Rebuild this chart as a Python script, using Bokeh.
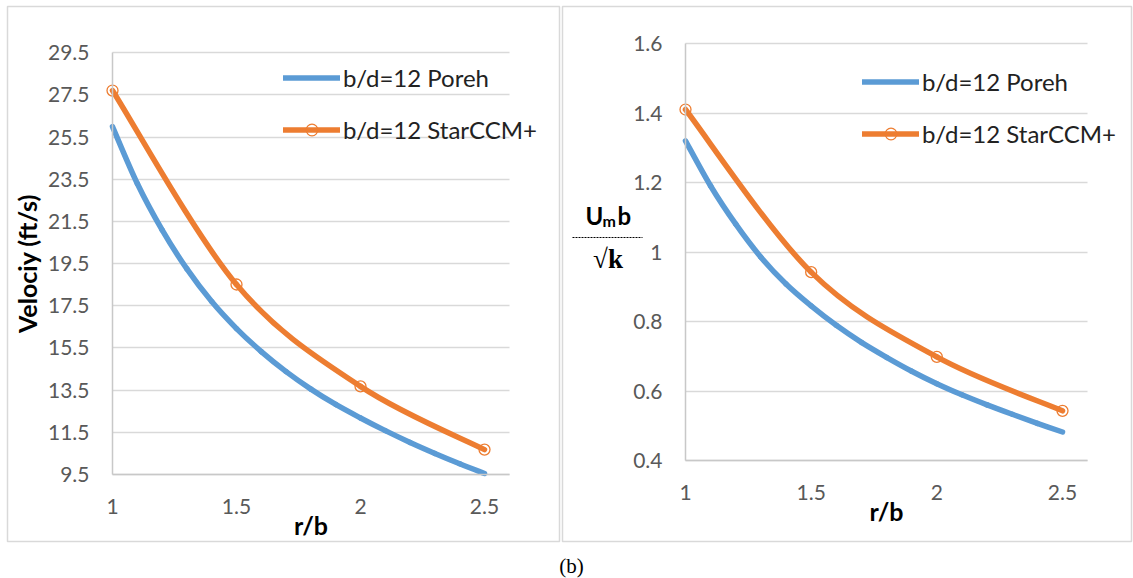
from bokeh.plotting import figure
from bokeh.models import (Range1d, FixedTicker, Legend, LegendItem, Label,
                          Arrow, Div)
from bokeh.layouts import row, column
from bokeh.embed import file_html
from bokeh.resources import INLINE

# ---------------- data ----------------
r_b = [1.0, 1.5, 2.0, 2.5]
vel_star = [27.71, 18.51, 13.68, 10.68]
umb_star = [1.41, 0.942, 0.698, 0.543]

r_poreh = [1.0, 1.1, 1.2, 1.3, 1.4, 1.5, 1.6, 1.7, 1.8, 1.9, 2.0, 2.1, 2.2,
           2.3, 2.4, 2.5]
vel_poreh = [26.0, 23.3, 21.1, 19.25, 17.7, 16.42, 15.33, 14.38, 13.55, 12.82,
             12.18, 11.58, 11.02, 10.5, 10.01, 9.55]
umb_poreh = [1.32, 1.19, 1.08, 0.985, 0.908, 0.845, 0.789, 0.740, 0.697,
             0.657, 0.621, 0.589, 0.560, 0.533, 0.507, 0.482]

x_ticks = [1, 1.5, 2, 2.5]
x_tick_labels = ["1", "1.5", "2", "2.5"]
vel_ticks = [9.5, 11.5, 13.5, 15.5, 17.5, 19.5, 21.5, 23.5, 25.5, 27.5, 29.5]
vel_tick_labels = ["9.5", "11.5", "13.5", "15.5", "17.5", "19.5", "21.5",
                   "23.5", "25.5", "27.5", "29.5"]
umb_ticks = [0.4, 0.6, 0.8, 1.0, 1.2, 1.4, 1.6]
umb_tick_labels = ["0.4", "0.6", "0.8", "1", "1.2", "1.4", "1.6"]
legend_labels = ["b/d=12 Poreh", "b/d=12 StarCCM+"]
x_title = "r/b"
y_title_left = "Velociy (ft/s)"

BLUE = "#5B9BD5"
ORANGE = "#ED7D31"
FONT = "Lato"


def smooth_segments(xs, ys):
    """Bezier segments (Catmull-Rom style, like a smoothed spreadsheet line)."""
    n = len(xs)
    d = dict(x0=[], y0=[], x1=[], y1=[], cx0=[], cy0=[], cx1=[], cy1=[])
    for i in range(n - 1):
        xp, yp = (xs[i - 1], ys[i - 1]) if i > 0 else (xs[i], ys[i])
        xn, yn = (xs[i + 2], ys[i + 2]) if i + 2 < n else (xs[i + 1], ys[i + 1])
        d["x0"].append(xs[i]); d["y0"].append(ys[i])
        d["x1"].append(xs[i + 1]); d["y1"].append(ys[i + 1])
        d["cx0"].append(xs[i] + (xs[i + 1] - xp) / 6.0)
        d["cy0"].append(ys[i] + (ys[i + 1] - yp) / 6.0)
        d["cx1"].append(xs[i + 1] - (xn - xs[i]) / 6.0)
        d["cy1"].append(ys[i + 1] - (yn - ys[i]) / 6.0)
    return d


def span(va, pa, vb, pb, lo, hi):
    """Range whose ends fall at pixels lo/hi given two anchor (value, px)."""
    s = (vb - va) / (pb - pa)
    return va + (lo - pa) * s, va + (hi - pa) * s


def make_panel(width, canvas_left, frame_lr, x_anchor, y_anchor,
               yticks, ylabels, ylabel):
    fl, fr = frame_lr
    ft, fb = 6, 541
    xr = span(x_ticks[0], x_anchor[0], x_ticks[-1], x_anchor[1], fl, fr)
    yr = span(yticks[-1], y_anchor[0], yticks[0], y_anchor[1], fb, ft)
    p = figure(width=width, height=548,
               x_range=Range1d(*xr), y_range=Range1d(*yr),
               output_backend="svg", toolbar_location=None,
               min_border_left=fl - canvas_left,
               min_border_right=canvas_left + width - fr,
               min_border_top=ft, min_border_bottom=548 - fb)
    p.outline_line_color = "#d9d9d9"
    p.outline_line_width = 1.5
    p.background_fill_color = "white"
    p.border_fill_color = "white"

    p.xaxis.ticker = FixedTicker(ticks=x_ticks)
    p.xaxis.major_label_overrides = {t: s for t, s in zip(x_ticks, x_tick_labels)}
    p.yaxis.ticker = FixedTicker(ticks=yticks)
    p.yaxis.major_label_overrides = {t: s for t, s in zip(yticks, ylabels)}
    p.xaxis.fixed_location = yticks[0]
    p.yaxis.fixed_location = x_ticks[0]
    p.xaxis.bounds = (x_ticks[0], 2.6)
    p.yaxis.bounds = (yticks[0], yticks[-1])

    for ax in (p.xaxis[0], p.yaxis[0]):
        ax.major_tick_line_color = None
        ax.minor_tick_line_color = None
        ax.axis_line_color = "#c8c8c8"
        ax.axis_line_width = 1.5
        ax.major_label_text_font = FONT
        ax.major_label_text_font_size = "21px"
        ax.major_label_text_color = "#595959"
        ax.axis_label_text_font = FONT
        ax.axis_label_text_font_style = "bold"
        ax.axis_label_text_font_size = "25px"
        ax.axis_label_text_color = "#000000"
    p.yaxis.major_label_standoff = 17
    p.xaxis.major_label_standoff = 18
    p.xaxis.axis_label = x_title
    p.xaxis.axis_label_standoff = -7
    if ylabel:
        p.yaxis.axis_label = ylabel
        p.yaxis.axis_label_standoff = 3

    p.xgrid.visible = False
    p.ygrid.ticker = FixedTicker(ticks=yticks)
    p.ygrid.cross_bounds = (x_ticks[0], 2.6)
    p.ygrid.grid_line_color = "#d9d9d9"
    p.ygrid.grid_line_width = 1.5
    return p


def add_series(p, poreh, star, legend_loc):
    b = p.bezier(**smooth_segments(r_poreh, poreh),
                 line_color=BLUE, line_width=5.5, line_cap="round")
    o = p.bezier(**smooth_segments(r_b, star),
                 line_color=ORANGE, line_width=5.5, line_cap="round")
    m = p.scatter(r_b, star, marker="circle", size=11, fill_alpha=0,
                  line_color=ORANGE, line_width=1.3)
    leg = Legend(items=[LegendItem(label=legend_labels[0], renderers=[b]),
                        LegendItem(label=legend_labels[1], renderers=[o, m])],
                 location=legend_loc, orientation="vertical",
                 glyph_width=57, glyph_height=29, label_height=29,
                 spacing=23, label_standoff=3, padding=0, margin=0,
                 border_line_color=None, background_fill_alpha=0,
                 label_text_font=FONT, label_text_font_size="24px",
                 label_text_color="#222222")
    p.add_layout(leg)


# ---------------- left panel ----------------
p1 = make_panel(561, 0, (7, 559), (112, 484), (52.3, 474),
                vel_ticks, vel_tick_labels, y_title_left)
add_series(p1, vel_poreh, vel_star, (276, 397))

# ---------------- right panel ----------------
p2 = make_panel(572, 561, (562, 1131), (685, 1062), (43, 460),
                umb_ticks, umb_tick_labels, None)
add_series(p2, umb_poreh, umb_star, (300, 393))

# fraction-style y label: U_m b / sqrt(k)  (screen px from frame bottom-left)
lab_kw = dict(x_units="screen", y_units="screen", text_font=FONT,
              text_font_style="bold", text_color="#000000",
              text_baseline="alphabetic")
p2.add_layout(Label(x=23, y=326, text="U", text_font_size="24px", **lab_kw))
p2.add_layout(Label(x=40, y=321, text="m", text_font_size="16px", **lab_kw))
p2.add_layout(Label(x=55, y=326, text="b", text_font_size="24px", **lab_kw))
p2.add_layout(Arrow(end=None, start=None, x_start=10, y_start=304,
                    x_end=80, y_end=304, start_units="screen",
                    end_units="screen", line_dash="2 1", line_width=1,
                    line_color="#000000"))
p2.add_layout(Label(x=45.5, y=283, text="√k", text_align="center",
                    text_baseline="alphabetic", x_units="screen",
                    y_units="screen", text_font="Liberation Serif",
                    text_font_style="bold", text_font_size="27px",
                    text_color="#000000"))

caption = Div(text='<div style="width:1133px;text-align:center;'
                   'font-family:\'Liberation Serif\';font-size:21px;'
                   'line-height:26px;color:#000;">(b)</div>',
              width=1133, height=30)

layout = column(row(p1, p2, spacing=0), caption, spacing=0)

with open("out.html", "w") as f:
    f.write(file_html(layout, INLINE))
